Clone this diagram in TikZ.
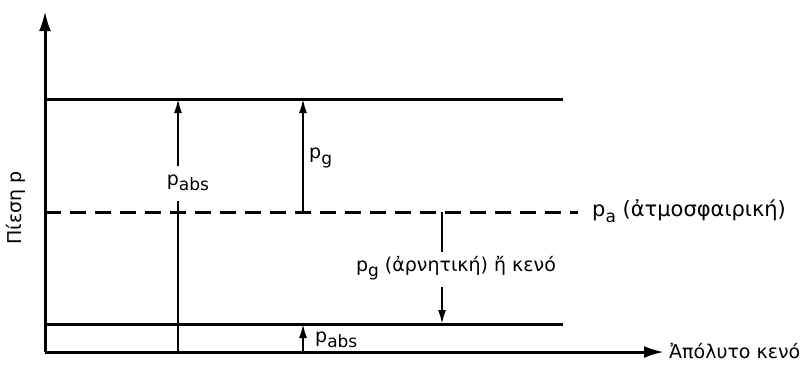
\documentclass[tikz,border=0pt]{standalone}
\usepackage{fontspec}
\setmainfont{DejaVu Sans}
\usepackage{tikz}
\usetikzlibrary{arrows.meta,positioning,calc}
\newcommand{\lowsub}[1]{\raisebox{-0.5ex}{\fontsize{17}{17}\selectfont #1}}
\tikzset{
  >={Latex[length=14pt,width=8pt]},
  every node/.style={font=\fontsize{19}{21}\selectfont,text=black},
  axis/.style={-{Latex[length=20pt,width=12pt]},line width=3pt},
  level/.style={line width=3pt},
  atmo/.style={line width=3pt,dash pattern=on 16pt off 9pt},
  arrow/.style={->,line width=2pt},
  plain/.style={line width=2pt},
  lbl/.style={inner sep=1pt}
}
\begin{document}
\begin{tikzpicture}[x=1pt,y=-1pt]
  \useasboundingbox (0,0) rectangle (805,388);
  % axes
  \coordinate (O) at (45,352);
  \coordinate (ytip) at (45,11);
  \coordinate (xtip) at (664,352);
  \draw[axis] (O)--(ytip);
  \draw[axis] (O)--(xtip);
  \node[lbl,anchor=west] (vac) at ($(xtip)+(4,-1)$) {Ἀπόλυτο κενό};
  \node[lbl,rotate=90] (pres) at (16,208) {Πίεση p};

  % pressure levels
  \coordinate (hiL) at (45,99);   \coordinate (hiR) at (563,99);
  \coordinate (atL) at (45,212);  \coordinate (atR) at (578,212);
  \coordinate (loL) at (45,324);  \coordinate (loR) at (563,324);
  \draw[level] (hiL)--(hiR);
  \draw[atmo] (atL)--(atR);
  \draw[level] (loL)--(loR);
  \node[lbl,anchor=west,font=\fontsize{21}{23}\selectfont] (patm) at (591,211) {p\lowsub{a} (ἀτμοσφαιρική)};

  % absolute pressure above atmosphere
  \coordinate (abs0) at (178,352);
  \coordinate (abs1) at (178,99);
  \node[lbl] (absl) at (188,183) {p\lowsub{abs}};
  \draw[plain] (abs0)--(178,201);
  \draw[arrow] (178,166)--(abs1);

  % gauge pressure
  \coordinate (g0) at (303,212);
  \coordinate (g1) at (303,99);
  \draw[arrow] (g0)--(g1);
  \node[lbl,anchor=west] (gl) at (308,158) {p\lowsub{g}};

  % negative gauge / vacuum
  \coordinate (v0) at (442,212);
  \coordinate (v1) at (442,324);
  \node[lbl] (vl) at (456,268) {p\lowsub{g} (ἀρνητική) ἤ κενό};
  \draw[plain] (v0)--(442,252);
  \draw[arrow] (442,287)--(v1);

  % absolute pressure below atmosphere
  \coordinate (b0) at (303,352);
  \coordinate (b1) at (303,324);
  \draw[arrow] (b0)--(b1);
  \node[lbl,anchor=west] (bl) at (314,340) {p\lowsub{abs}};
\end{tikzpicture}
\end{document}
